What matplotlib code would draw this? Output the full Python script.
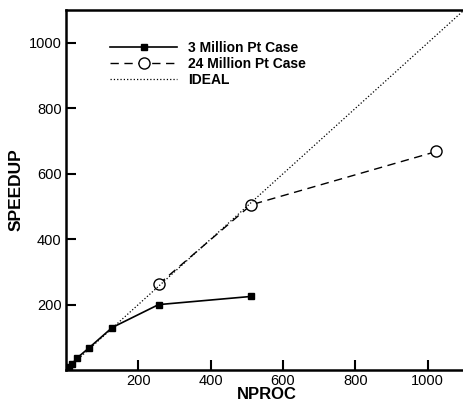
import numpy as np
import matplotlib.pyplot as plt

plt.rcParams['font.family'] = ['Liberation Sans', 'DejaVu Sans']

nproc_3m = [1, 8, 16, 32, 64, 128, 256, 512]
speedup_3m = [1, 8, 18, 38, 68, 130, 200, 225]
nproc_24m = [256, 512, 1024]
speedup_24m = [262, 505, 668]
ideal = [0, 1100]

fig = plt.figure(figsize=(4.64, 4.04), dpi=100)
ax = fig.add_axes([0.142, 0.084, 0.858, 0.891])

ax.plot(nproc_3m, speedup_3m, '-', color='black', lw=1.2, marker='s', ms=5,
        label='3 Million Pt Case')
ax.plot(nproc_24m, speedup_24m, '--', color='black', lw=1.0, marker='o', ms=8,
        mfc='white', mec='black', dashes=(6, 4), label='24 Million Pt Case')
ax.plot(ideal, ideal, ':', color='black', lw=0.9, label='IDEAL')

ax.set_xlim(0, 1100)
ax.set_ylim(0, 1100)
ax.set_xticks([200, 400, 600, 800, 1000])
ax.set_yticks([200, 400, 600, 800, 1000])
ax.tick_params(direction='in', length=7, width=1.5, labelsize=10.5, pad=3)
for s in ax.spines.values():
    s.set_linewidth(1.8)
ax.spines['right'].set_visible(False)

ax.set_xlabel('NPROC', fontsize=12, fontweight='bold', va='center')
ax.xaxis.set_label_coords(0.504, -0.068)
ax.set_ylabel('SPEEDUP', fontsize=12.5, fontweight='bold', labelpad=4)

leg = ax.legend(loc='upper left', bbox_to_anchor=(0.08, 0.95), frameon=False,
                handlelength=4.8, fontsize=10, labelspacing=0.15)
for t in leg.get_texts():
    t.set_fontweight('bold')

fig.savefig('out.png', dpi=100)
